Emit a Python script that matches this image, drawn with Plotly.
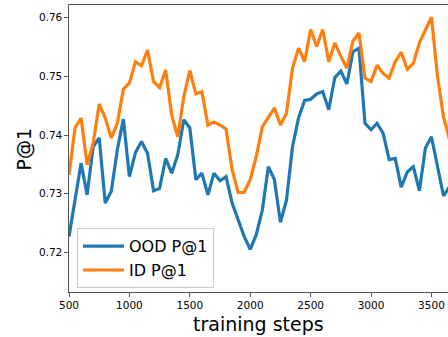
import plotly.graph_objects as go

steps = list(range(500, 3701, 50))

ood_p1 = [0.7227, 0.7289, 0.7352, 0.7298, 0.7380, 0.7395, 0.7284, 0.7304, 0.7375, 0.7427,
          0.7329, 0.7370, 0.7389, 0.7369, 0.7305, 0.7309, 0.7360, 0.7335, 0.7366, 0.7426,
          0.7412, 0.7324, 0.7335, 0.7298, 0.7335, 0.7322, 0.7329, 0.7284, 0.7255, 0.7227,
          0.7205, 0.7230, 0.7272, 0.7346, 0.7324, 0.7251, 0.7289, 0.7380, 0.7429, 0.7459,
          0.7461, 0.7470, 0.7474, 0.7443, 0.7498, 0.7509, 0.7487, 0.7542, 0.7548, 0.7420,
          0.7409, 0.7420, 0.7403, 0.7358, 0.7360, 0.7311, 0.7337, 0.7346, 0.7305, 0.7378,
          0.7397, 0.7346, 0.7296, 0.7312, 0.7320]

id_p1 = [0.7332, 0.7412, 0.7429, 0.7349, 0.7386, 0.7453, 0.7429, 0.7395, 0.7420, 0.7478,
         0.7489, 0.7525, 0.7518, 0.7545, 0.7491, 0.7481, 0.7511, 0.7434, 0.7397, 0.7465,
         0.7510, 0.7470, 0.7474, 0.7417, 0.7422, 0.7417, 0.7410, 0.7341, 0.7302, 0.7302,
         0.7324, 0.7363, 0.7414, 0.7429, 0.7446, 0.7417, 0.7437, 0.7514, 0.7548, 0.7525,
         0.7580, 0.7551, 0.7580, 0.7525, 0.7557, 0.7534, 0.7514, 0.7560, 0.7574, 0.7497,
         0.7491, 0.7519, 0.7505, 0.7497, 0.7525, 0.7541, 0.7512, 0.7522, 0.7557, 0.7579,
         0.7601, 0.7500, 0.7431, 0.7392, 0.7370]

x_ticks = [500, 1000, 1500, 2000, 2500, 3000, 3500]
y_ticks = [0.72, 0.73, 0.74, 0.75, 0.76]
y_tick_labels = ["0.72", "0.73", "0.74", "0.75", "0.76"]

FONT = "DejaVu Sans"
SPINE = "#555555"

fig = go.Figure()
fig.add_trace(go.Scatter(x=steps, y=ood_p1, mode="lines", name="OOD P@1",
                         line=dict(color="#1f77b4", width=3.2)))
fig.add_trace(go.Scatter(x=steps, y=id_p1, mode="lines", name="ID P@1",
                         line=dict(color="#ff7f0e", width=3.2)))

fig.update_layout(
    width=448, height=337,
    margin=dict(l=69, r=0, t=5, b=45),
    paper_bgcolor="white", plot_bgcolor="white",
    font=dict(family=FONT, color="black"),
    showlegend=True,
    legend=dict(x=0.021, y=0.222, xanchor="left", yanchor="top",
                font=dict(size=16, family=FONT), itemwidth=41,
                bgcolor="rgba(255,255,255,0.8)", bordercolor="#cccccc", borderwidth=1,
                tracegroupgap=0),
    xaxis=dict(range=[500, 3637], tickvals=x_ticks, ticks="outside", ticklen=3.5,
               tickcolor=SPINE, showline=True, linecolor=SPINE, linewidth=1.2,
               mirror=True, showgrid=False, zeroline=False,
               tickfont=dict(size=10.5, family=FONT)),
    yaxis=dict(range=[0.71323, 0.76217], tickvals=y_ticks, ticktext=y_tick_labels,
               ticks="outside", ticklen=3.5, tickcolor=SPINE, showline=True,
               linecolor=SPINE, linewidth=1.2, mirror=False, showgrid=False,
               zeroline=False, tickfont=dict(size=10.5, family=FONT)),
    annotations=[
        dict(text="training steps", xref="paper", yref="paper", x=0.5, y=-0.065,
             xanchor="center", yanchor="top", showarrow=False,
             font=dict(size=19, family=FONT)),
        dict(text="P@1", xref="paper", yref="paper", x=-0.119, y=0.5,
             xanchor="center", yanchor="middle", textangle=-90, showarrow=False,
             font=dict(size=19, family=FONT)),
    ],
)

fig.write_html("out.html")
